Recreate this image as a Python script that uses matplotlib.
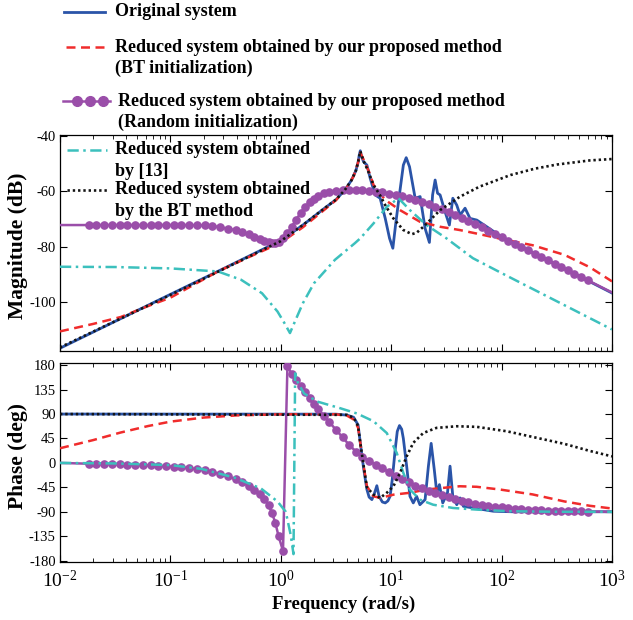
import numpy as np
import matplotlib
matplotlib.use("Agg")
import matplotlib.pyplot as plt
from matplotlib.lines import Line2D

# ---- data (log10 of frequency, value) ----
blue_mag_lw = [-2.0, -1.0, -0.5, 0.0, 0.2, 0.4, 0.5, 0.58, 0.64, 0.68, 0.70, 0.71, 0.72, 0.73,
               0.75, 0.78, 0.81, 0.855, 0.90, 0.946, 0.985, 1.015, 1.04, 1.066, 1.11, 1.136,
               1.166, 1.217, 1.262, 1.307, 1.346, 1.375, 1.398, 1.42, 1.443, 1.488, 1.527,
               1.558, 1.594, 1.624, 1.669, 1.714, 1.775, 1.865, 2.0, 2.5, 3.0]
blue_mag = [-116.8, -97.3, -87.6, -77.8, -72.2, -66.0, -63.0, -59.5, -56.0, -52.5, -49.5, -47.0,
            -45.3, -47.2, -49.3, -50.5, -55.3, -61.3, -62.5, -69.8, -77.0, -80.6, -72.0, -63.8,
            -50.5, -47.8, -51.1, -62.5, -61.9, -73.4, -78.5, -61.3, -55.9, -60.7, -61.3, -67.4,
            -72.2, -62.5, -65.0, -68.6, -66.1, -69.8, -70.4, -72.8, -76.5, -86.6, -96.8]

blue_ph_lw = [-2.0, 0.5, 0.6, 0.66, 0.70, 0.72, 0.75, 0.78, 0.80, 0.825, 0.85, 0.87, 0.89, 0.92,
              0.946, 0.97, 0.99, 1.01, 1.036, 1.055, 1.075, 1.095, 1.11, 1.14, 1.17, 1.2, 1.23,
              1.26, 1.307, 1.337, 1.362, 1.39, 1.413, 1.437, 1.467, 1.51, 1.533, 1.558, 1.594,
              1.624, 1.654, 1.744, 1.925, 2.1, 3.0]
blue_ph = [90, 89.8, 88, 84, 70, 37, -10, -49, -63, -67.6, -55, -42, -61.5, -72, -73.7, -70,
           -61.5, -30, 24.5, 58, 68.8, 62, 45, -6, -61.5, -73.7, -61.5, -77, -67.6, -6, 36, -12,
           -55, -40, -73.7, -55, -6, -61.5, -77, -64.5, -80, -83, -89, -90, -90]

red_mag_lw = [-2.0, -1.7, -1.45, -1.2, -1.0, -0.57, -0.3, 0.0, 0.2, 0.4, 0.5, 0.6, 0.66, 0.70,
              0.72, 0.75, 0.8, 0.84, 0.946, 1.08, 1.26, 1.44, 1.62, 1.80, 2.04, 2.28, 2.57, 2.8, 3.0]
red_mag = [-110.7, -108.0, -105.5, -101.5, -98.5, -89.0, -84.0, -78.6, -73.0, -66.5, -63.2, -58.5,
           -54.5, -49.5, -46.0, -48.5, -53.0, -57.7, -63.1, -66.8, -71.0, -72.8, -74.0, -75.5,
           -77.6, -79.5, -83.0, -87.5, -92.6]

red_ph_lw = [-2.0, -1.7, -1.45, -1.2, -1.0, -0.7, -0.4, 0.0, 0.5, 0.6, 0.66, 0.70, 0.72, 0.75,
             0.78, 0.84, 0.9, 1.02, 1.17, 1.32, 1.47, 1.62, 1.775, 1.985, 2.28, 2.57, 2.8, 3.0]
red_ph = [27, 42, 56, 68, 76, 83.5, 87.5, 89.5, 89.5, 87, 80, 65, 37, -5, -43, -61.5, -64.5,
          -58.5, -55, -49, -46, -43, -44, -49, -58, -71, -79, -84]

purple_lw = [-2.0, -1.74, -1.67, -1.60, -1.53, -1.46, -1.39, -1.32, -1.25, -1.18, -1.11, -1.04,
             -0.97, -0.90, -0.83, -0.76, -0.69, -0.62, -0.55, -0.48, -0.41, -0.35, -0.29, -0.24,
             -0.19, -0.15, -0.11, -0.08, -0.05, -0.02, 0.02, 0.06, 0.10, 0.14, 0.18, 0.22, 0.26,
             0.30, 0.34, 0.39, 0.44, 0.50, 0.56, 0.62, 0.68, 0.74, 0.80, 0.86, 0.92, 0.98, 1.04,
             1.10, 1.16, 1.22, 1.28, 1.34, 1.40, 1.46, 1.52, 1.58, 1.64, 1.70, 1.76, 1.82, 1.88,
             1.94, 2.00, 2.06, 2.12, 2.18, 2.24, 2.30, 2.36, 2.42, 2.48, 2.54, 2.60, 2.66, 2.72,
             2.78, 3.0]
purple_mag = [-72.2, -72.2, -72.2, -72.2, -72.2, -72.2, -72.2, -72.2, -72.2, -72.2, -72.2, -72.2,
              -72.2, -72.2, -72.2, -72.3, -72.3, -72.5, -73.0, -73.5, -74.1, -74.8, -75.6, -76.4,
              -77.2, -77.9, -78.5, -78.8, -78.7, -78.2, -77.0, -75.2, -72.8, -70.2, -67.8, -65.7,
              -64.0, -62.6, -61.6, -60.7, -60.1, -59.7, -59.5, -59.4, -59.5, -59.6, -59.8, -60.1,
              -60.4, -60.8, -61.2, -61.7, -62.3, -63.0, -63.8, -64.7, -65.6, -66.5, -67.5, -68.5,
              -69.6, -70.7, -71.8, -73.0, -74.2, -75.4, -76.6, -77.8, -79.0, -80.2, -81.4, -82.6,
              -83.8, -85.0, -86.2, -87.4, -88.6, -89.8, -91.0, -92.2, -96.6]
purple_ph = [0, -1.5, -1.7, -2.0, -2.3, -2.7, -3.1, -3.6, -4.1, -4.7, -5.4, -6.2, -7.2, -8.4,
             -9.8, -11.5, -13.5, -16.5, -20.5, -25, -30, -35.5, -42, -49, -57, -66, -78, -92,
             -110, -135, -162, 178, 164, 152, 141, 130, 120, 109, 99, 87, 75, 61, 47, 33, 21, 11,
             3, -3, -10, -17, -24, -30, -36, -42, -47, -52, -56, -60, -63.5, -67, -70, -72.5,
             -75, -77, -79, -80.5, -82, -83.3, -84.4, -85.3, -86, -86.7, -87.3, -87.8, -88.2,
             -88.6, -88.9, -89.2, -89.4, -89.6, -90]

cyan_mag_lw = [-2.0, -1.5, -1.0, -0.57, -0.36, -0.17, -0.03, 0.03, 0.083, 0.14, 0.2, 0.3, 0.49,
               0.67, 0.72, 0.84, 0.96, 1.066, 1.17, 1.32, 1.50, 1.74, 2.0, 2.5, 3.0]
cyan_mag = [-87.3, -87.4, -87.9, -89.0, -92.0, -96.9, -103.5, -107.5, -111.3, -106.0, -100.5,
            -93.3, -84.8, -78.8, -77.0, -71.6, -65.6, -62.5, -66.8, -72.2, -77.0, -84.2, -89.6,
            -99.8, -110.0]

cyan_ph_lw = [-2.0, -1.5, -1.0, -0.72, -0.42, -0.18, -0.03, 0.045, 0.09, 0.115, 0.13, 0.15, 0.21,
              0.33, 0.54, 0.69, 0.84, 0.96, 1.05, 1.11, 1.17, 1.26, 1.38, 1.56, 1.775, 2.076,
              2.5, 3.0]
cyan_ph = [0, -1, -4, -11, -27, -47, -71, -90, -133, -168, 165, 150, 128, 113, 100.6, 91, 76.7,
           55, 18.4, -18.4, -49, -67.6, -77, -83, -86, -89, -90, -90]

black_mag_lw = [-2.0, -1.0, 0.0, 0.2, 0.4, 0.5, 0.58, 0.64, 0.68, 0.70, 0.72, 0.75, 0.8, 0.84,
                0.9, 0.946, 1.02, 1.11, 1.187, 1.23, 1.292, 1.443, 1.624, 1.80, 2.08, 2.3, 2.5,
                2.8, 3.0]
black_mag = [-116.5, -97.5, -78.0, -72.2, -66.0, -63.0, -59.5, -56.0, -52.5, -49.5, -45.5, -49.0,
             -53.5, -57.7, -61.5, -65.0, -69.8, -74.0, -75.5, -75.0, -72.8, -66.8, -61.9, -58.3,
             -54.1, -51.8, -50.3, -48.8, -48.3]

black_ph_lw = [-2.0, 0.6, 0.66, 0.70, 0.72, 0.75, 0.78, 0.84, 0.9, 0.96, 1.02, 1.08, 1.14, 1.2,
               1.29, 1.41, 1.594, 1.775, 2.046, 2.3, 2.57, 2.8, 3.0]
black_ph = [90, 88.5, 83, 68, 37, -5, -45, -58.5, -64.5, -55, -43, -18.5, 12, 37, 55, 64.5, 67.5,
            66.4, 58.3, 47, 35, 22, 12]

legend_labels = [
    ["Original system"],
    ["Reduced system obtained by our proposed method", "(BT initialization)"],
    ["Reduced system obtained by our proposed method", "(Random initialization)"],
    ["Reduced system obtained", "by [13]"],
    ["Reduced system obtained", "by the BT method"],
]

# ---- styles ----
BLUE = "#2a54a8"
RED = "#f02c2c"
PURPLE = "#9a4ea9"
CYAN = "#3cc0bd"
BLACK = "#141414"

plt.rcParams["font.family"] = ["Liberation Serif", "DejaVu Serif"]
plt.rcParams["mathtext.fontset"] = "cm"
plt.rcParams["axes.unicode_minus"] = False
plt.rcParams["axes.linewidth"] = 0.9

W, H = 633, 620
fig = plt.figure(figsize=(W / 100, H / 100), dpi=100)


def box(l, t, r, b):
    return [l / W, 1 - b / H, (r - l) / W, (b - t) / H]


ax_m = fig.add_axes(box(60, 135, 612, 351))
ax_p = fig.add_axes(box(60, 363, 612, 562))

f = lambda lw: 10 ** np.array(lw)

styles = dict(
    blue=dict(color=BLUE, lw=2.0, zorder=2),
    red=dict(color=RED, lw=1.8, ls=(0, (3.6, 2.2)), zorder=3),
    purple=dict(color=PURPLE, lw=1.8, marker="o", ms=5.2, markevery=slice(1, -1), zorder=4),
    cyan=dict(color=CYAN, lw=1.8, ls=(0, (4.5, 1.8, 1.0, 1.8)), zorder=5),
    black=dict(color=BLACK, lw=1.9, ls=(0, (0.9, 1.1)), zorder=6),
)

ax_m.plot(f(blue_mag_lw), blue_mag, **styles["blue"])
ax_m.plot(f(red_mag_lw), red_mag, **styles["red"])
ax_m.plot(f(purple_lw), purple_mag, **styles["purple"])
ax_m.plot(f(cyan_mag_lw), cyan_mag, **styles["cyan"])
ax_m.plot(f(black_mag_lw), black_mag, **styles["black"])

ax_p.plot(f(blue_ph_lw), blue_ph, **styles["blue"])
ax_p.plot(f(red_ph_lw), red_ph, **styles["red"])
ax_p.plot(f(purple_lw), purple_ph, **styles["purple"])
ax_p.plot(f(cyan_ph_lw), cyan_ph, **styles["cyan"])
ax_p.plot(f(black_ph_lw), black_ph, **styles["black"])

for ax in (ax_m, ax_p):
    ax.set_xscale("log")
    ax.set_xlim(1e-2, 1e3)
    ax.tick_params(which="both", direction="in", top=True, right=True, labelsize=10.5, pad=3)
    ax.tick_params(which="major", length=5, width=0.8)
    ax.tick_params(which="minor", length=3, width=0.6)

ax_m.set_ylim(-117.8, -39.6)
ax_m.set_yticks([-40, -60, -80, -100])
ax_m.tick_params(axis="x", labelbottom=False)

ax_p.set_ylim(-182.5, 184)
ax_p.set_yticks([180, 135, 90, 45, 0, -45, -90, -135, -180])
ax_p.tick_params(axis="x", labelsize=14, pad=6)

lab = dict(fontweight="bold", family=["Liberation Serif", "DejaVu Serif"])
fig.text(18 / W, 1 - 246 / H, "Magnitude (dB)", rotation=90, ha="center", va="center",
         fontsize=15.5, **lab)
fig.text(18 / W, 1 - 456 / H, "Phase (deg)", rotation=90, ha="center", va="center",
         fontsize=15.5, **lab)
fig.text(344 / W, 1 - 604 / H, "Frequency (rad/s)", ha="center", va="center", fontsize=13.5, **lab)

# ---- legend, drawn by hand so the keys sit on the first text line ----
keys = [
    (12, 64, 105, styles["blue"]),
    (47, 66, 105, styles["red"]),
    (101, 63, 110, styles["purple"]),
    (150, 67, 107, styles["cyan"]),
    (190, 67, 107, styles["black"]),
]
text_x = [115, 115, 118, 115, 115]
line_gap = 21
for (y, x0, x1, st), tx, lines in zip(keys, text_x, legend_labels):
    has_marker = "marker" in st
    st = {k: v for k, v in st.items() if k not in ("markevery", "marker", "ms", "zorder")}
    fig.add_artist(Line2D([x0 / W, x1 / W], [1 - y / H] * 2, transform=fig.transFigure, **st))
    if has_marker:
        fig.add_artist(Line2D([77 / W, 90 / W, 103 / W], [1 - y / H] * 3, transform=fig.transFigure,
                              color=st["color"], ls="none", marker="o", ms=7))
    for i, txt in enumerate(lines):
        fig.text(tx / W, 1 - (y + i * line_gap) / H, txt, ha="left", va="center",
                 fontsize=13, **lab)

fig.savefig("out.png", dpi=100)
